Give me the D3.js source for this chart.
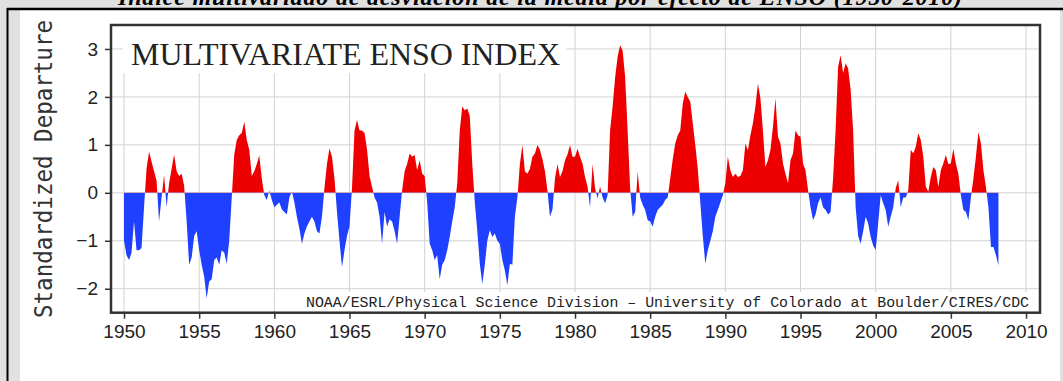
<!DOCTYPE html>
<html>
<head>
<meta charset="utf-8">
<script src="https://cdn.jsdelivr.net/npm/d3@7"></script>
<style>
  body { margin: 0; background: #e1e1e1; }
  svg { display: block; }
</style>
</head>
<body>
<svg></svg>
<script>
// MEI, one row per year, six bimonthly values
var years = [1950, 1951, 1952, 1953, 1954, 1955, 1956, 1957, 1958, 1959,
             1960, 1961, 1962, 1963, 1964, 1965, 1966, 1967, 1968, 1969,
             1970, 1971, 1972, 1973, 1974, 1975, 1976, 1977, 1978, 1979,
             1980, 1981, 1982, 1983, 1984, 1985, 1986, 1987, 1988, 1989,
             1990, 1991, 1992, 1993, 1994, 1995, 1996, 1997, 1998, 1999,
             2000, 2001, 2002, 2003, 2004, 2005, 2006, 2007, 2008];
var mei = [
  [-1.0, -1.3, -1.4, -1.25, -0.6, -1.2],
  [-1.2, -1.15, -0.3, 0.5, 0.86, 0.65],
  [0.45, 0.25, -0.6, -0.1, 0.37, -0.3],
  [0.2, 0.5, 0.8, 0.45, 0.35, 0.4],
  [0.15, -0.6, -1.5, -1.35, -0.9, -0.8],
  [-1.2, -1.5, -1.75, -2.2, -1.85, -1.8],
  [-1.4, -1.35, -1.5, -1.2, -1.25, -1.48],
  [-1.0, -0.1, 0.8, 1.1, 1.2, 1.25],
  [1.48, 1.1, 0.9, 0.35, 0.45, 0.6],
  [0.78, 0.3, -0.05, -0.15, 0.05, -0.15],
  [-0.3, -0.25, -0.2, -0.35, -0.4, -0.45],
  [-0.1, 0.03, -0.2, -0.5, -0.75, -1.06],
  [-0.85, -0.7, -0.6, -0.5, -0.6, -0.8],
  [-0.85, -0.5, 0.1, 0.6, 0.93, 0.75],
  [0.3, -0.4, -1.0, -1.55, -1.2, -0.9],
  [-0.7, 0.1, 1.3, 1.52, 1.3, 1.3],
  [1.25, 0.9, 0.35, 0.12, -0.1, -0.2],
  [-0.5, -1.06, -0.4, -0.7, -0.55, -0.6],
  [-0.8, -1.06, -0.5, 0.05, 0.45, 0.6],
  [0.82, 0.75, 0.79, 0.47, 0.68, 0.4],
  [0.35, -0.2, -1.06, -1.2, -1.4, -1.3],
  [-1.8, -1.5, -1.4, -1.2, -0.92, -0.6],
  [-0.3, 0.2, 1.3, 1.8, 1.72, 1.76],
  [1.6, 0.6, -0.2, -0.8, -1.48, -1.9],
  [-1.5, -1.0, -0.78, -0.92, -0.85, -1.0],
  [-1.06, -1.4, -1.62, -1.93, -1.48, -1.5],
  [-0.5, -0.1, 0.6, 1.0, 0.45, 0.4],
  [0.5, 0.75, 0.82, 1.0, 0.9, 0.7],
  [0.45, 0.05, -0.5, -0.35, 0.3, 0.6],
  [0.33, 0.45, 0.68, 0.8, 1.0, 0.75],
  [0.75, 0.92, 0.75, 0.61, 0.33, 0.13],
  [-0.3, 0.6, 0.1, -0.12, 0.13, -0.1],
  [-0.22, -0.05, 1.3, 1.8, 2.4, 2.84],
  [3.08, 2.97, 2.42, 1.3, 0.1, -0.5],
  [-0.4, 0.44, -0.1, -0.25, -0.36, -0.57],
  [-0.6, -0.71, -0.5, -0.36, -0.3, -0.25],
  [-0.15, -0.1, 0.3, 0.7, 1.03, 1.2],
  [1.3, 1.86, 2.11, 2.0, 1.9, 1.45],
  [1.0, 0.5, -0.2, -0.9, -1.48, -1.2],
  [-1.0, -0.8, -0.5, -0.36, -0.2, -0.05],
  [0.2, 0.75, 0.47, 0.33, 0.4, 0.33],
  [0.35, 0.47, 1.03, 0.89, 1.2, 1.45],
  [1.8, 2.28, 1.97, 1.3, 0.54, 0.68],
  [0.9, 1.38, 1.97, 1.17, 1.03, 0.61],
  [0.4, 0.2, 0.68, 0.82, 1.3, 1.2],
  [1.17, 0.61, 0.47, 0.06, -0.3, -0.57],
  [-0.45, -0.22, -0.1, -0.3, -0.36, -0.45],
  [-0.4, 0.3, 1.3, 2.63, 2.87, 2.5],
  [2.7, 2.6, 2.15, 1.3, -0.3, -0.9],
  [-1.06, -0.8, -0.5, -0.64, -0.92, -1.1],
  [-1.2, -0.64, -0.05, -0.22, -0.36, -0.71],
  [-0.5, -0.3, 0.1, 0.26, -0.3, -0.1],
  [-0.1, 0.05, 0.9, 0.82, 0.96, 1.24],
  [1.1, 0.75, 0.13, 0.02, 0.33, 0.54],
  [0.47, 0.12, 0.47, 0.61, 0.79, 0.6],
  [0.61, 0.92, 0.61, 0.4, -0.05, -0.36],
  [-0.4, -0.57, -0.1, 0.3, 0.75, 1.27],
  [1.03, 0.47, 0.12, -0.3, -1.13, -1.13],
  [-1.3, -1.51]
];
var xTicks = [1950, 1955, 1960, 1965, 1970, 1975, 1980, 1985, 1990, 1995, 2000, 2005, 2010];
var yTicks = [-2, -1, 0, 1, 2, 3];

var svgWidth = 1063, svgHeight = 381;
var plotLeft = 111, plotRight = 1040, plotTop = 25, plotBottom = 312.7;

var svg = d3.select('svg')
    .attr('width', svgWidth)
    .attr('height', svgHeight);

// page around the picture
svg.append('rect').attr('width', svgWidth).attr('height', svgHeight).attr('fill', '#e1e1e1');
svg.append('rect').attr('x', 20).attr('y', 10).attr('width', 1040).attr('height', 371).attr('fill', '#fff');
svg.append('line').attr('x1', 7).attr('x2', svgWidth).attr('y1', 9).attr('y2', 9)
    .attr('stroke', '#000').attr('stroke-width', 2.5);
svg.append('line').attr('x1', 7.5).attr('x2', 7.5).attr('y1', 8).attr('y2', svgHeight)
    .attr('stroke', '#000').attr('stroke-width', 2);

svg.append('text')
    .attr('x', 540).attr('y', 5)
    .attr('text-anchor', 'middle')
    .attr('font-family', 'Liberation Serif')
    .attr('font-style', 'italic').attr('font-weight', 'bold')
    .attr('font-size', 24)
    .attr('textLength', 844)
    .text('Índice multivariado de desviación de la media por efecto de ENSO (1950-2010)');

var x = d3.scaleLinear().domain([1949.135, 2010.93]).range([plotLeft, plotRight]);
var y = d3.scaleLinear().domain([-2.5, 3.5]).range([plotBottom, plotTop]);

// grid
svg.selectAll('.vgrid').data(xTicks).enter().append('line')
    .attr('x1', function(d) { return x(d); }).attr('x2', function(d) { return x(d); })
    .attr('y1', plotTop).attr('y2', plotBottom)
    .attr('stroke', '#d2d2d2');
svg.selectAll('.hgrid').data(yTicks).enter().append('line')
    .attr('y1', function(d) { return y(d); }).attr('y2', function(d) { return y(d); })
    .attr('x1', plotLeft).attr('x2', plotRight)
    .attr('stroke', '#d2d2d2');

// white boxes behind the two labels inside the plot
svg.append('rect').attr('x', 123).attr('y', 26).attr('width', 443).attr('height', 47).attr('fill', '#fff');
svg.append('rect').attr('x', 300).attr('y', 292).attr('width', 736).attr('height', 19).attr('fill', '#fff');

var points = [];
years.forEach(function(yr, i) {
    mei[i].forEach(function(v, j) { points.push({t: yr + j / 6, v: v}); });
});

var defs = svg.append('defs');
defs.append('clipPath').attr('id', 'above').append('rect')
    .attr('x', plotLeft).attr('y', plotTop).attr('width', plotRight - plotLeft).attr('height', y(0) - plotTop);
defs.append('clipPath').attr('id', 'below').append('rect')
    .attr('x', plotLeft).attr('y', y(0)).attr('width', plotRight - plotLeft).attr('height', plotBottom - y(0));

var area = d3.area()
    .x(function(d) { return x(d.t); })
    .y0(y(0))
    .y1(function(d) { return y(d.v); });

svg.append('path').datum(points).attr('d', area)
    .attr('fill', '#ee0000').attr('clip-path', 'url(#above)');
svg.append('path').datum(points).attr('d', area)
    .attr('fill', '#2040ff').attr('clip-path', 'url(#below)');

// axes
var yAxis = svg.append('g').attr('transform', 'translate(' + plotLeft + ',0)')
    .call(d3.axisLeft(y).tickValues(yTicks).tickFormat(d3.format('d')).tickSize(6).tickPadding(7));
var xAxis = svg.append('g').attr('transform', 'translate(0,' + plotBottom + ')')
    .call(d3.axisBottom(x).tickValues(xTicks).tickFormat(d3.format('d')).tickSize(6).tickPadding(6));
[yAxis, xAxis].forEach(function(g) {
    g.select('.domain').remove();
    g.attr('font-family', 'Liberation Sans').attr('font-size', 19);
    g.selectAll('text').attr('fill', '#222');
    g.selectAll('line').attr('stroke', '#333').attr('stroke-width', 1.5);
});

svg.append('rect')
    .attr('x', plotLeft).attr('y', plotTop).attr('width', plotRight - plotLeft).attr('height', plotBottom - plotTop)
    .attr('fill', 'none').attr('stroke', '#333').attr('stroke-width', 2.5);

svg.append('text')
    .attr('transform', 'translate(52,169) rotate(-90)')
    .attr('text-anchor', 'middle')
    .attr('font-family', 'DejaVu Sans Mono')
    .attr('font-size', 24)
    .attr('textLength', 298).attr('lengthAdjust', 'spacingAndGlyphs')
    .attr('fill', '#333')
    .text('Standardized Departure');

svg.append('text')
    .attr('x', 131).attr('y', 65)
    .attr('font-family', 'Liberation Serif')
    .attr('font-size', 32)
    .attr('textLength', 429)
    .attr('fill', '#222')
    .text('MULTIVARIATE ENSO INDEX');

svg.append('text')
    .attr('x', 306).attr('y', 307)
    .attr('font-family', 'Liberation Mono')
    .attr('font-size', 15)
    .attr('textLength', 723).attr('lengthAdjust', 'spacingAndGlyphs')
    .attr('fill', '#222')
    .text('NOAA/ESRL/Physical Science Division \u2013 University of Colorado at Boulder/CIRES/CDC');
</script>
</body>
</html>
